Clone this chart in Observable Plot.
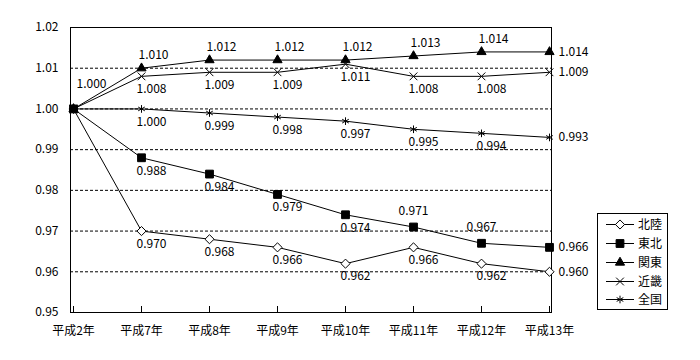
<!DOCTYPE html>
<html><head><meta charset="utf-8">
<script src="https://cdn.jsdelivr.net/npm/d3@7"></script>
<script src="https://cdn.jsdelivr.net/npm/@observablehq/plot@0.6"></script>
<style>
body{margin:0;background:#fff;}
#wrap{position:relative;width:700px;height:360px;font-family:"Noto Sans CJK JP",sans-serif;}
#legend{position:absolute;left:597px;top:213px;width:71px;height:97px;box-sizing:border-box;border:1px solid #000;background:#fff;padding-top:1px;}
#legend .row{display:flex;align-items:center;height:18.75px;font-size:12px;line-height:1;}
#legend svg{display:block;}
</style></head><body><div id="wrap"></div>
<script>
const years = ["平成2年","平成7年","平成8年","平成9年","平成10年","平成11年","平成12年","平成13年"];
const seriesNames = ["北陸","東北","関東","近畿","全国"];
const hokuriku = [1.000, 0.970, 0.968, 0.966, 0.962, 0.966, 0.962, 0.960];
const tohoku   = [1.000, 0.988, 0.984, 0.979, 0.974, 0.971, 0.967, 0.966];
const kanto    = [1.000, 1.010, 1.012, 1.012, 1.012, 1.013, 1.014, 1.014];
const kinki    = [1.000, 1.008, 1.009, 1.009, 1.011, 1.008, 1.008, 1.009];
const zenkoku  = [1.000, 1.000, 0.999, 0.998, 0.997, 0.995, 0.994, 0.993];
const yTicks = [0.95, 0.96, 0.97, 0.98, 0.99, 1.00, 1.01, 1.02];
const gridTicks = [0.96, 0.97, 0.98, 0.99, 1.00, 1.01];

const seriesValues = [hokuriku, tohoku, kanto, kinki, zenkoku];
const symbols = {"北陸":"diamond2","東北":"square","関東":"triangle","近畿":"times","全国":"asterisk"};
const symbolR = {"北陸":4.1,"東北":4.4,"関東":3.4,"近畿":3.6,"全国":3.6};

const rows = [];
seriesNames.forEach((s, si) => seriesValues[si].forEach((v, i) => rows.push({series: s, year: years[i], v, i})));
const last = years.length - 1;
function placement(d) {
  if (d.i === 0) return d.series === "関東" ? "first" : "none";
  if (d.i === last) return "right";
  if (d.series === "関東") return "above";
  if (d.series === "東北" && d.i >= 5) return "aboveT";
  return "below";
}
rows.forEach(d => d.pos = placement(d));
const fmt = d3.format(".3f");
const font = {fontSize: 12, fontFamily: "Noto Sans CJK JP, sans-serif", fill: "#000"};

const dotOrder = ["近畿","全国","北陸","関東","東北"];
const marks = [
  Plot.ruleY(gridTicks, {stroke: "#000", strokeWidth: 1, strokeDasharray: "3,2"}),
  Plot.frame({stroke: "#000", strokeWidth: 1}),
  Plot.axisY({ticks: yTicks, tickFormat: d3.format(".2f"), tickSize: 0, tickPadding: 12, label: null, fontSize: 12}),
  Plot.axisX({tickSize: 0, tickPadding: 14, label: null, fontSize: 12}),
  Plot.axisX({tickSize: -6, tickFormat: () => "", label: null}),
  ...seriesNames.map(s => Plot.line(rows.filter(d => d.series === s), {x: "year", y: "v", stroke: "#000", strokeWidth: 1})),
  ...dotOrder.map(s => Plot.dot(rows.filter(d => d.series === s), {
    x: "year", y: "v", symbol: () => symbols[s], r: symbolR[s],
    fill: s === "北陸" ? "#fff" : (s === "近畿" || s === "全国") ? "none" : "#000",
    stroke: "#000", strokeWidth: 1
  })),
  Plot.text(rows.filter(d => d.pos === "above"), {x: "year", y: "v", text: d => fmt(d.v), dx: 12, dy: -13, ...font}),
  Plot.text(rows.filter(d => d.pos === "aboveT"), {x: "year", y: "v", text: d => fmt(d.v), dx: 0, dy: -16, ...font}),
  Plot.text(rows.filter(d => d.pos === "below"), {x: "year", y: "v", text: d => fmt(d.v), dx: 10, dy: 13, ...font}),
  Plot.text(rows.filter(d => d.pos === "right"), {x: "year", y: "v", text: d => fmt(d.v), dx: 9, dy: 0, textAnchor: "start", ...font}),
  Plot.text(rows.filter(d => d.pos === "first"), {x: "year", y: "v", text: d => fmt(d.v), dx: 3, dy: -25, textAnchor: "start", ...font})
];

const chart = Plot.plot({
  width: 700, height: 360,
  marginLeft: 70, marginRight: 149, marginTop: 27, marginBottom: 48,
  x: {type: "point", domain: years, padding: 0},
  y: {domain: [0.95, 1.02]},
  style: {fontFamily: "Noto Sans CJK JP, sans-serif", fontSize: "12px", color: "#000", background: "#fff"},
  marks
});
const wrap = document.getElementById("wrap");
wrap.appendChild(chart);

const legend = document.createElement("div");
legend.id = "legend";
const symMap = {"diamond2": d3.symbolDiamond2, "square": d3.symbolSquare, "triangle": d3.symbolTriangle, "times": d3.symbolTimes, "asterisk": d3.symbolAsterisk};
seriesNames.forEach(s => {
  const row = document.createElement("div");
  row.className = "row";
  const svg = d3.create("svg").attr("width", 40).attr("height", 18);
  svg.append("line").attr("x1", 8).attr("x2", 36).attr("y1", 9.5).attr("y2", 9.5).attr("stroke", "#000");
  const r = symbolR[s];
  svg.append("path").attr("transform", "translate(22,9.5)")
    .attr("d", d3.symbol(symMap[symbols[s]], Math.PI * r * r)())
    .attr("fill", s === "北陸" ? "#fff" : (s === "近畿" || s === "全国") ? "none" : "#000")
    .attr("stroke", "#000");
  row.appendChild(svg.node());
  const t = document.createElement("span");
  t.textContent = s;
  row.appendChild(t);
  legend.appendChild(row);
});
wrap.appendChild(legend);
</script></body></html>
